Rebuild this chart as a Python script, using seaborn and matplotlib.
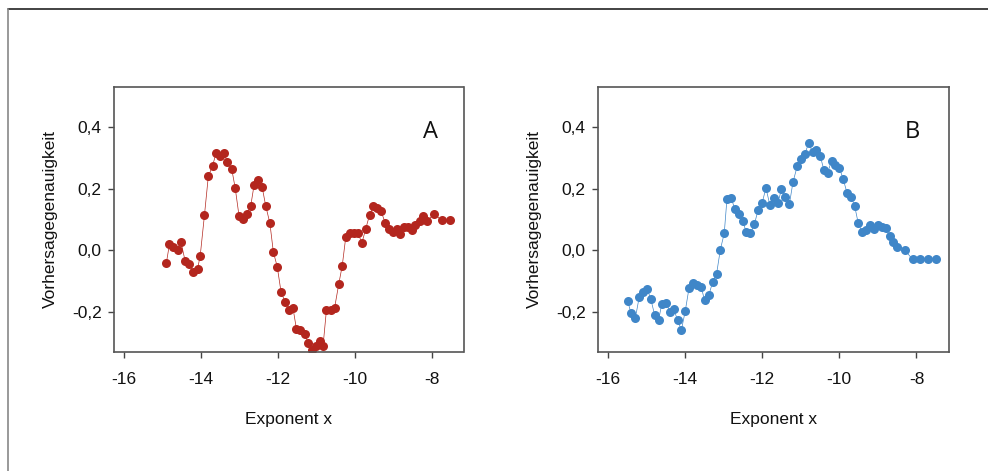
import numpy as np
import pandas as pd
import matplotlib
matplotlib.use("Agg")
import matplotlib.pyplot as plt
from matplotlib.ticker import FuncFormatter
from matplotlib.lines import Line2D
import seaborn as sns

# Panel A data
xa = [-14.89, -14.81, -14.72, -14.60, -14.51, -14.40, -14.29, -14.19, -14.08, -14.01,
      -13.90, -13.80, -13.69, -13.60, -13.50, -13.39, -13.31, -13.19, -13.10, -13.00,
      -12.89, -12.80, -12.70, -12.61, -12.50, -12.40, -12.31, -12.20, -12.11, -12.01,
      -11.91, -11.81, -11.71, -11.60, -11.51, -11.41, -11.30, -11.20, -11.10, -11.00,
      -10.91, -10.82, -10.73, -10.61, -10.52, -10.41, -10.32, -10.23, -10.13, -10.02,
      -9.91, -9.81, -9.71, -9.61, -9.51, -9.41, -9.31, -9.20, -9.11, -9.01,
      -8.90, -8.81, -8.71, -8.61, -8.50, -8.42, -8.31, -8.23, -8.12, -7.93,
      -7.73, -7.52]
ya = [-0.041, 0.020, 0.010, 0.002, 0.027, -0.035, -0.044, -0.071, -0.060, -0.017,
      0.114, 0.239, 0.273, 0.314, 0.305, 0.314, 0.287, 0.262, 0.201, 0.110,
      0.102, 0.117, 0.142, 0.212, 0.228, 0.204, 0.145, 0.088, -0.005, -0.052,
      -0.134, -0.165, -0.191, -0.186, -0.254, -0.258, -0.271, -0.299, -0.322, -0.310,
      -0.292, -0.310, -0.191, -0.191, -0.186, -0.108, -0.049, 0.042, 0.056, 0.058,
      0.056, 0.024, 0.070, 0.115, 0.144, 0.137, 0.126, 0.088, 0.070, 0.061,
      0.070, 0.054, 0.075, 0.077, 0.065, 0.083, 0.096, 0.112, 0.096, 0.117,
      0.097, 0.097]

# Panel B data
xb = [-15.48, -15.40, -15.28, -15.18, -15.08, -14.98, -14.88, -14.78, -14.68, -14.60,
      -14.48, -14.39, -14.29, -14.19, -14.09, -13.99, -13.89, -13.79, -13.68, -13.58,
      -13.49, -13.38, -13.28, -13.18, -13.08, -12.98, -12.91, -12.80, -12.71, -12.60,
      -12.50, -12.41, -12.30, -12.20, -12.10, -12.00, -11.90, -11.80, -11.70, -11.59,
      -11.50, -11.40, -11.29, -11.20, -11.09, -10.99, -10.89, -10.79, -10.69, -10.59,
      -10.49, -10.40, -10.30, -10.20, -10.10, -10.00, -9.90, -9.80, -9.69, -9.60,
      -9.51, -9.41, -9.30, -9.21, -9.11, -9.00, -8.89, -8.79, -8.69, -8.60,
      -8.50, -8.30, -8.10, -7.90, -7.70, -7.49]
yb = [-0.163, -0.201, -0.217, -0.149, -0.133, -0.123, -0.158, -0.210, -0.225, -0.174,
      -0.169, -0.198, -0.188, -0.225, -0.257, -0.196, -0.120, -0.106, -0.110, -0.117,
      -0.160, -0.145, -0.102, -0.077, 0.003, 0.055, 0.165, 0.170, 0.135, 0.118,
      0.095, 0.059, 0.055, 0.084, 0.132, 0.152, 0.202, 0.148, 0.170, 0.152,
      0.197, 0.173, 0.151, 0.220, 0.272, 0.297, 0.313, 0.347, 0.317, 0.323,
      0.304, 0.261, 0.251, 0.290, 0.277, 0.267, 0.232, 0.186, 0.173, 0.143,
      0.089, 0.060, 0.065, 0.082, 0.070, 0.082, 0.075, 0.073, 0.046, 0.027,
      0.011, 0.001, -0.029, -0.027, -0.027, -0.027]

x_ticks = [-16, -14, -12, -10, -8]
y_ticks = [-0.2, 0.0, 0.2, 0.4]
panel_labels = ["A", "B"]
x_label = "Exponent x"
y_label = "Vorhersagegenauigkeit"

sns.set_theme(style="ticks")
plt.rcParams['font.family'] = ['Liberation Sans', 'DejaVu Sans']

fig = plt.figure(figsize=(9.88, 4.71), dpi=100)

W, H = 988.0, 471.0
axA = fig.add_axes([114 / W, 1 - 352.3 / H, (463.5 - 114) / W, (352.3 - 86.7) / H])
axB = fig.add_axes([598 / W, 1 - 352.3 / H, (948.5 - 598) / W, (352.3 - 86.7) / H])

red = "#b3261e"
blue = "#3f86c8"

dfA = pd.DataFrame({"x": xa, "y": ya})
dfB = pd.DataFrame({"x": xb, "y": yb})

for ax, df, col, lab, lpos in [(axA, dfA, red, panel_labels[0], (0.905, 0.83)),
                               (axB, dfB, blue, panel_labels[1], (0.897, 0.83))]:
    sns.lineplot(data=df, x="x", y="y", ax=ax, color=col, linewidth=0.5,
                 marker="o", markersize=6.5, markeredgewidth=0, markeredgecolor=col,
                 sort=False)
    ax.set_xlim(-16.25, -7.17)
    ax.set_ylim(-0.329, 0.529)
    ax.set_xticks(x_ticks)
    ax.set_yticks(y_ticks)
    ax.yaxis.set_major_formatter(FuncFormatter(lambda v, p: f"{v:.1f}".replace(".", ",")))
    ax.xaxis.set_major_formatter(FuncFormatter(lambda v, p: f"{int(round(v))}"))
    ax.tick_params(axis="x", direction="out", length=4, width=1, color="#444444",
                   labelsize=12.5, labelcolor="#111111", pad=10)
    ax.tick_params(axis="y", direction="out", length=4, width=1, color="#444444",
                   labelsize=12.5, labelcolor="#111111", pad=5)
    for s in ax.spines.values():
        s.set_visible(True)
        s.set_color("#555555")
        s.set_linewidth(1.2)
    ax.set_xlabel(x_label, fontsize=12.5, color="#111111", labelpad=18)
    ax.set_ylabel(y_label, fontsize=12.5, color="#111111", labelpad=10)
    ax.text(lpos[0], lpos[1], lab, transform=ax.transAxes, ha="center", va="center",
            fontsize=17, family=["Open Sans", "DejaVu Sans"], color="#111111")

# outer frame lines (top and left)
fig.add_artist(Line2D([8 / W, 1.0], [1 - 9 / H, 1 - 9 / H], transform=fig.transFigure,
                      color="#222222", linewidth=1.2))
fig.add_artist(Line2D([8 / W, 8 / W], [0.0, 1 - 9 / H], transform=fig.transFigure,
                      color="#888888", linewidth=1.2))

fig.savefig("out.png", dpi=100)
